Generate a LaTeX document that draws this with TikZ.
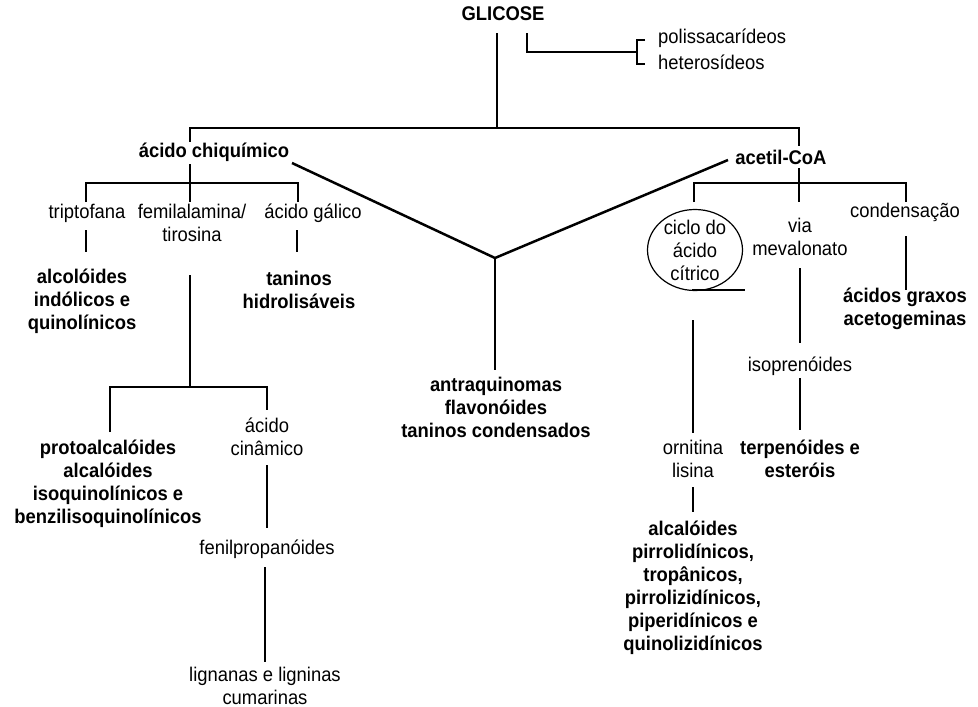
\documentclass[tikz,border=0pt]{standalone}
\usepackage{fontspec}
\usetikzlibrary{shapes.geometric}
\setmainfont{Liberation Sans}[FakeStretch=0.93]
\begin{document}
\begin{tikzpicture}[x=1pt,y=-1pt,
  txt/.style={inner sep=0pt,align=center,font=\fontsize{19.8}{23}\selectfont},
  btxt/.style={txt,font=\fontsize{19.8}{23}\selectfont\bfseries},
  conn/.style={line width=2.5pt,line cap=butt,line join=miter},
  thin/.style={line width=1.2pt}]
\useasboundingbox[fill=white] (0,0) rectangle (978,707);
% nodes
\node[btxt] (glic) at (503,14) {GLICOSE};
\node[txt,anchor=west] (poli) at (658,38) {polissacarídeos};
\node[txt,anchor=west] (hete) at (658,62) {heterosídeos};
\node[btxt] (chiq) at (214,152) {ácido chiquímico};
\node[btxt] (acet) at (781,157) {acetil-CoA};
\node[txt] (trip) at (87,213) {triptofana};
\node[txt] (femi) at (192,223) {femilalamina/\\tirosina};
\node[txt] (gali) at (313,213) {ácido gálico};
\node[btxt] (alci) at (82,301) {alcolóides\\indólicos e\\quinolínicos};
\node[btxt] (tanh) at (299,290) {taninos\\hidrolisáveis};
\node[btxt] (antr) at (496,407) {antraquinomas\\flavonóides\\taninos condensados};
\node[txt] (cina) at (267,437) {ácido\\cinâmico};
\node[btxt] (prot) at (108,484) {protoalcalóides\\alcalóides\\isoquinolínicos e\\benzilisoquinolínicos};
\node[txt] (feni) at (267,549) {fenilpropanóides};
\node[txt] (lign) at (265,686) {lignanas e ligninas\\cumarinas};
\node[draw,thin,ellipse,minimum width=95pt,minimum height=81pt,inner sep=0pt] (elli) at (695,250) {};
\node[txt] (cicl) at (695,250) {ciclo do\\ácido\\cítrico};
\node[txt] (viam) at (800,237) {via\\mevalonato};
\node[txt] (cond) at (905,212) {condensação};
\node[btxt] (acgr) at (905,309) {ácidos graxos\\acetogeminas};
\node[txt] (isop) at (800,366) {isoprenóides};
\node[btxt] (terp) at (800,459) {terpenóides e\\esteróis};
\node[txt] (orni) at (693,459) {ornitina\\lisina};
\node[btxt] (alcp) at (693,588) {alcalóides\\pirrolidínicos,\\tropânicos,\\pirrolizidínicos,\\piperidínicos e\\quinolizidínicos};
% junction coordinates
\coordinate (jg) at (497,128);
\coordinate (jc) at (190,183);
\coordinate (jf) at (190,387);
\coordinate (jm) at (495,258);
\coordinate (ja) at (799,183);
% connectors
\draw[conn] (497,33) -- (jg);
\draw[conn] (527,33) -- (527,52) -- (637,52);
\draw[conn] (645,40) -- (637,40) -- (637,64) -- (645,64);
\draw[conn] (190,128) -- (799,128);
\draw[conn] (190,127) -- (190,142);
\draw[conn] (799,127) -- (799,146);
\draw[conn] (190,164) -- (jc);
\draw[conn] (86,202) -- (86,183) -- (298,183) -- (298,202);
\draw[conn] (jc) -- (190,202);
\draw[conn] (86,230) -- (86,252);
\draw[conn] (297,230) -- (297,252);
\draw[conn] (190,275) -- (jf);
\draw[conn] (110,432) -- (110,387) -- (267,387) -- (267,410);
\draw[conn] (267,465) -- (267,528);
\draw[conn] (265,567) -- (265,662);
\draw[conn] (292,163) -- (jm) -- (728,160);
\draw[conn] (jm) -- (495,370);
\draw[conn] (799,168) -- (ja);
\draw[conn] (694,202) -- (694,183) -- (906,183) -- (906,202);
\draw[conn] (ja) -- (799,202);
\draw[conn] (906,236) -- (906,290);
\draw[conn] (800,268) -- (800,343);
\draw[conn] (800,378) -- (800,430);
\draw[conn] (693,320) -- (693,433);
\draw[conn] (693,487) -- (693,512);
\draw[thin] (692,290) -- (745,290);
\end{tikzpicture}
\end{document}
